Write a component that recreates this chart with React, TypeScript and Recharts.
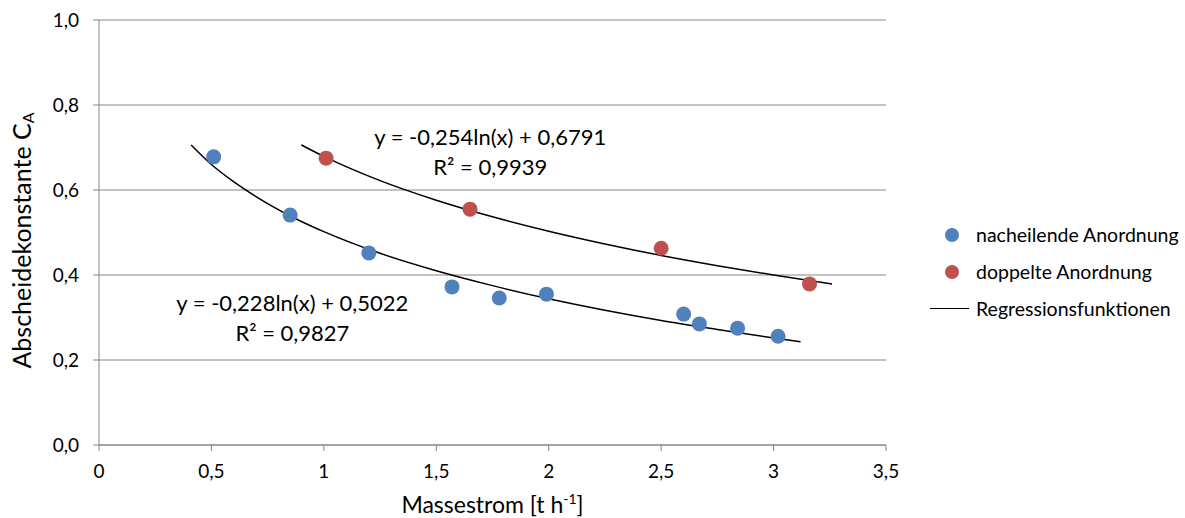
import { ScatterChart, Scatter, XAxis, YAxis, CartesianGrid, ReferenceDot, Label } from "recharts";

const xTicks = [0, 0.5, 1, 1.5, 2, 2.5, 3, 3.5];
const yTicks = [0, 0.2, 0.4, 0.6, 0.8, 1.0];

// Messpunkte
const nacheilend = [
  { x: 0.51, y: 0.678 },
  { x: 0.85, y: 0.541 },
  { x: 1.2, y: 0.452 },
  { x: 1.57, y: 0.372 },
  { x: 1.78, y: 0.346 },
  { x: 1.99, y: 0.355 },
  { x: 2.6, y: 0.308 },
  { x: 2.67, y: 0.285 },
  { x: 2.84, y: 0.275 },
  { x: 3.02, y: 0.256 },
];

const doppelt = [
  { x: 1.01, y: 0.675 },
  { x: 1.65, y: 0.555 },
  { x: 2.5, y: 0.463 },
  { x: 3.16, y: 0.379 },
];

// Trendlinien
const fitNacheilend = [
  { x: 0.41, y: 0.706 },
  { x: 0.5, y: 0.66 },
  { x: 0.6, y: 0.619 },
  { x: 0.75, y: 0.568 },
  { x: 0.9, y: 0.526 },
  { x: 1.0, y: 0.502 },
  { x: 1.25, y: 0.451 },
  { x: 1.5, y: 0.41 },
  { x: 1.75, y: 0.375 },
  { x: 2.0, y: 0.344 },
  { x: 2.25, y: 0.317 },
  { x: 2.5, y: 0.293 },
  { x: 2.75, y: 0.272 },
  { x: 3.0, y: 0.252 },
  { x: 3.12, y: 0.243 },
];

const fitDoppelt = [
  { x: 0.9, y: 0.706 },
  { x: 1.0, y: 0.679 },
  { x: 1.25, y: 0.622 },
  { x: 1.5, y: 0.576 },
  { x: 1.75, y: 0.537 },
  { x: 2.0, y: 0.503 },
  { x: 2.25, y: 0.473 },
  { x: 2.5, y: 0.446 },
  { x: 2.75, y: 0.422 },
  { x: 3.0, y: 0.4 },
  { x: 3.26, y: 0.379 },
];

const BLUE = "#4f81bd";
const RED = "#c0504d";
const GRID = "#868686";
const FONT = "Lato, 'Open Sans', sans-serif";

const comma = (v: number, d: number) => v.toFixed(d).replace(".", ",");

function Equation({ cx, cy, lines }: any) {
  return (
    <text x={cx} y={cy} textAnchor="middle" fontSize={22} fill="#000" fontFamily={FONT}>
      <tspan x={cx} dy={8}>{lines[0]}</tspan>
      <tspan x={cx} dy={30}>{lines[1]}</tspan>
    </text>
  );
}

function YTitle({ viewBox }: any) {
  const cx = viewBox.x + 21;
  const cy = viewBox.y + viewBox.height / 2 + 8;
  return (
    <text x={cx} y={cy} transform={`rotate(-90, ${cx}, ${cy})`} textAnchor="middle" dominantBaseline="central" fontSize={25} fill="#000">
      Abscheidekonstante C
      <tspan dy={6} fontSize={16}>A</tspan>
    </text>
  );
}

function XTitle({ viewBox }: any) {
  const cx = viewBox.x + viewBox.width / 2;
  return (
    <text x={cx} y={513} textAnchor="middle" fontSize={23} fill="#000">
      Massestrom [t h
      <tspan dy={-9} fontSize={14}>-1</tspan>
      <tspan dy={9}>]</tspan>
    </text>
  );
}

export default function App() {
  return (
    <div style={{ position: "absolute", left: 0, top: 0, width: 1185, height: 518, background: "#fff", fontFamily: FONT }}>
      <ScatterChart width={1185} height={518} margin={{ top: 20, right: 299, bottom: 13, left: 0 }}>
        <CartesianGrid horizontal vertical={false} stroke={GRID} strokeWidth={1} />
        <XAxis
          type="number"
          dataKey="x"
          domain={[0, 3.5]}
          ticks={xTicks}
          height={60}
          tickSize={6}
          tickMargin={14}
          stroke={GRID}
          tick={{ fill: "#000", fontSize: 19 }}
          tickFormatter={(v) => (v % 1 === 0 ? String(v) : comma(v, 1))}
        >
          <Label content={<XTitle />} />
        </XAxis>
        <YAxis
          type="number"
          dataKey="y"
          domain={[0, 1]}
          ticks={yTicks}
          width={99}
          tickSize={6}
          tickMargin={14}
          stroke={GRID}
          tick={{ fill: "#000", fontSize: 19 }}
          tickFormatter={(v) => comma(v, 1)}
        >
          <Label content={<YTitle />} />
        </YAxis>
        <Scatter
          data={fitNacheilend}
          line={{ stroke: "#000", strokeWidth: 1.5 }}
          lineJointType="monotoneX"
          shape={() => <g />}
          isAnimationActive={false}
        />
        <Scatter
          data={fitDoppelt}
          line={{ stroke: "#000", strokeWidth: 1.5 }}
          lineJointType="monotoneX"
          shape={() => <g />}
          isAnimationActive={false}
        />
        <Scatter data={nacheilend} fill={BLUE} shape={(p: any) => <circle cx={p.cx} cy={p.cy} r={7.5} fill={BLUE} />} isAnimationActive={false} />
        <Scatter data={doppelt} fill={RED} shape={(p: any) => <circle cx={p.cx} cy={p.cy} r={7.5} fill={RED} />} isAnimationActive={false} />
        <ReferenceDot
          x={1.74}
          y={0.725}
          ifOverflow="visible"
          shape={(p: any) => <Equation cx={p.cx} cy={p.cy} lines={["y = -0,254ln(x) + 0,6791", "R² = 0,9939"]} />}
        />
        <ReferenceDot
          x={0.86}
          y={0.335}
          ifOverflow="visible"
          shape={(p: any) => <Equation cx={p.cx} cy={p.cy} lines={["y = -0,228ln(x) + 0,5022", "R² = 0,9827"]} />}
        />
      </ScatterChart>
      <div style={{ position: "absolute", left: 930, top: 216, fontSize: 19.5, color: "#000", lineHeight: "28px" }}>
        <div style={{ display: "flex", alignItems: "center", height: 37 }}>
          <span style={{ width: 14, height: 14, borderRadius: 7, background: BLUE, marginLeft: 15, marginRight: 17 }} />
          nacheilende Anordnung
        </div>
        <div style={{ display: "flex", alignItems: "center", height: 37 }}>
          <span style={{ width: 14, height: 14, borderRadius: 7, background: RED, marginLeft: 15, marginRight: 17 }} />
          doppelte Anordnung
        </div>
        <div style={{ display: "flex", alignItems: "center", height: 37 }}>
          <span style={{ width: 39, height: 1.5, background: "#000", marginRight: 7 }} />
          Regressionsfunktionen
        </div>
      </div>
    </div>
  );
}
